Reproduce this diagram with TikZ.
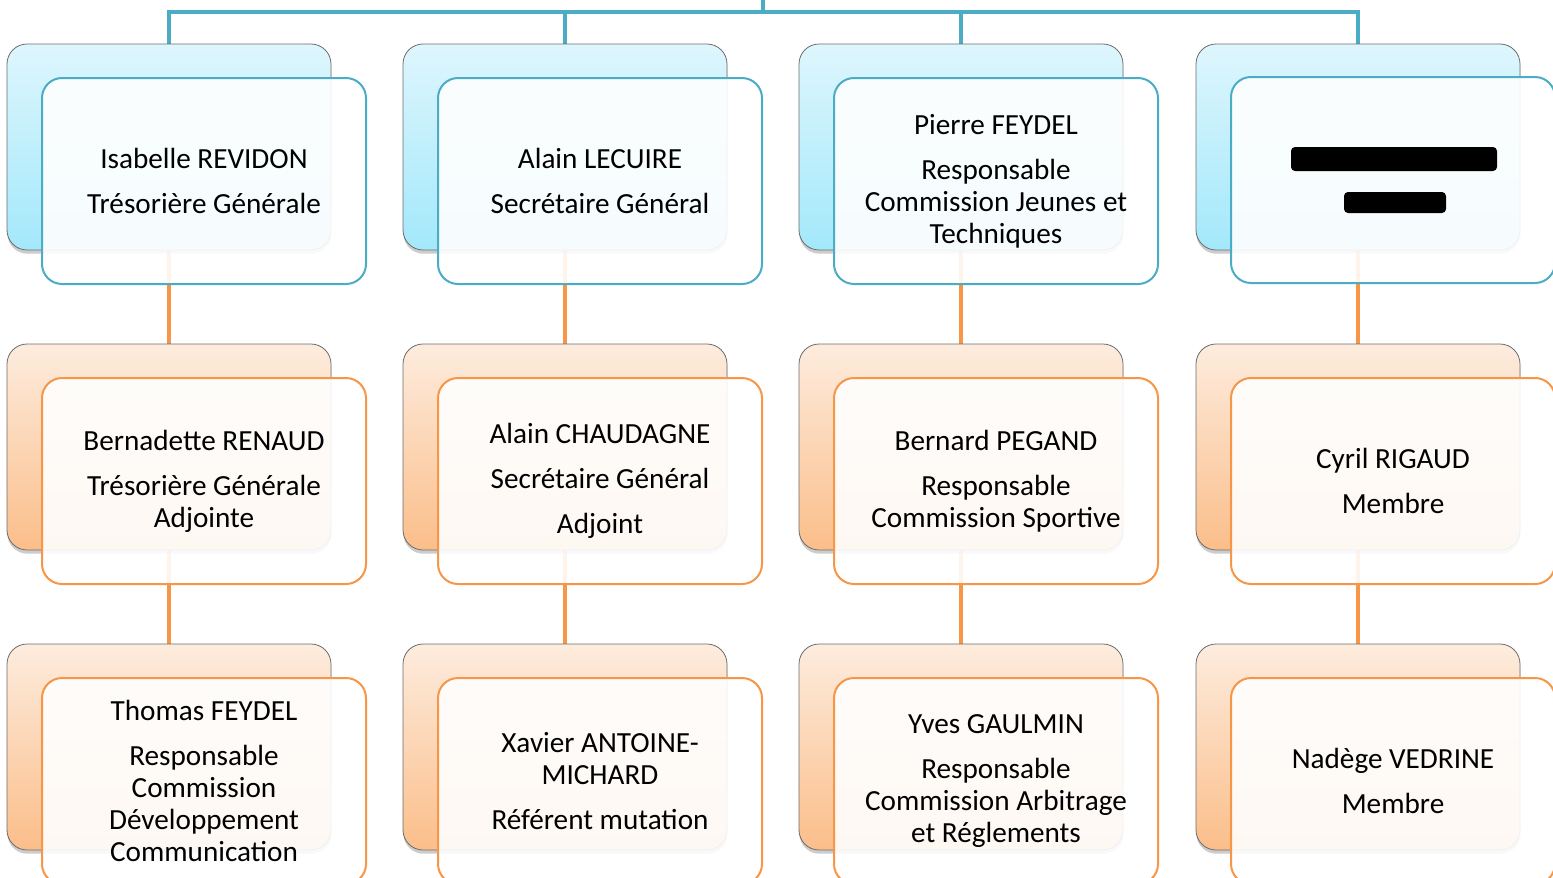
\documentclass[tikz,border=0pt]{standalone}
\usepackage{fontspec}
\setmainfont{Carlito}
\usetikzlibrary{shadows,backgrounds}
\definecolor{lineblue}{RGB}{75,172,198}
\definecolor{lineorange}{RGB}{247,150,70}
\definecolor{bluetop}{RGB}{222,246,253}
\definecolor{bluebot}{RGB}{163,232,251}
\definecolor{orangetop}{RGB}{253,236,222}
\definecolor{orangebot}{RGB}{251,190,138}
\tikzset{
  backbox/.style={rounded corners=15pt, draw=gray!85!black, line width=0.6pt,
    minimum width=243pt, minimum height=154.5pt, inner sep=0pt,
    drop shadow={opacity=0.4, shadow xshift=0.3pt, shadow yshift=-2.8pt}},
  blueback/.style={backbox, top color=bluetop, bottom color=bluebot},
  orangeback/.style={backbox, top color=orangetop, bottom color=orangebot},
  frontbox/.style={rounded corners=15pt, line width=1.5pt, fill=white, fill opacity=0.9,
    text opacity=1, minimum width=243pt, minimum height=154.5pt, inner sep=0pt,
    align=center, font=\fontsize{21.9}{24}\selectfont},
  bluefront/.style={frontbox, draw=lineblue},
  orangefront/.style={frontbox, draw=lineorange},
  bluelink/.style={draw=lineblue, line width=3pt},
  orangelink/.style={draw=lineorange, line width=3pt},
  redact/.style={fill=black, rounded corners=3pt}
}
\newcommand{\pg}{\\[9.75pt]}
\begin{document}
\begin{tikzpicture}[x=0.75pt,y=-0.75pt]
\useasboundingbox (0,0) rectangle (1553,878);
% back boxes
\node[blueback] (b11) at (169,147) {};
\node[blueback] (b12) at (565,147) {};
\node[blueback] (b13) at (961,147) {};
\node[blueback] (b14) at (1358,147) {};
\node[orangeback] (b21) at (169,447) {};
\node[orangeback] (b22) at (565,447) {};
\node[orangeback] (b23) at (961,447) {};
\node[orangeback] (b24) at (1358,447) {};
\node[orangeback] (b31) at (169,747) {};
\node[orangeback] (b32) at (565,747) {};
\node[orangeback] (b33) at (961,747) {};
\node[orangeback] (b34) at (1358,747) {};
% front boxes
\node[bluefront] (f11) at (204,181) {Isabelle REVIDON\pg Trésorière Générale};
\node[bluefront] (f12) at (600,181) {Alain LECUIRE\pg Secrétaire Général};
\node[bluefront] (f13) at (996,181) {Pierre FEYDEL\pg Responsable\\Commission Jeunes et\\Techniques};
\node[bluefront] (f14) at (1393,180) {};
\node[orangefront] (f21) at (204,481) {Bernadette RENAUD\pg Trésorière Générale\\Adjointe};
\node[orangefront] (f22) at (600,481) {Alain CHAUDAGNE\pg Secrétaire Général\pg Adjoint};
\node[orangefront] (f23) at (996,481) {Bernard PEGAND\pg Responsable\\Commission Sportive};
\node[orangefront] (f24) at (1393,481) {Cyril RIGAUD\pg Membre};
\node[orangefront] (f31) at (204,781) {Thomas FEYDEL\pg Responsable\\Commission\\Développement\\Communication};
\node[orangefront] (f32) at (600,781) {Xavier ANTOINE-\\MICHARD\pg Référent mutation};
\node[orangefront] (f33) at (996,781) {Yves GAULMIN\pg Responsable\\Commission Arbitrage\\et Réglements};
\node[orangefront] (f34) at (1393,781) {Nadège VEDRINE\pg Membre};
% redacted text
\fill[redact] (1291,147) rectangle (1497,171);
\fill[redact] (1344,192) rectangle (1446,213);
% connectors
\begin{scope}[on background layer]
\coordinate (top) at (763,0);
\coordinate (hub) at (763,12);
\draw[bluelink] (top) -- (hub);
\draw[bluelink] (hub) -| (b11.north);
\draw[bluelink] (hub) -| (b12.north);
\draw[bluelink] (hub) -| (b13.north);
\draw[bluelink] (hub) -| (b14.north);
\foreach \c in {1,2,3,4}{
  \draw[orangelink] (b1\c.south) -- (b2\c.north);
  \draw[orangelink] (b2\c.south) -- (b3\c.north);
}
\end{scope}
\end{tikzpicture}
\end{document}
